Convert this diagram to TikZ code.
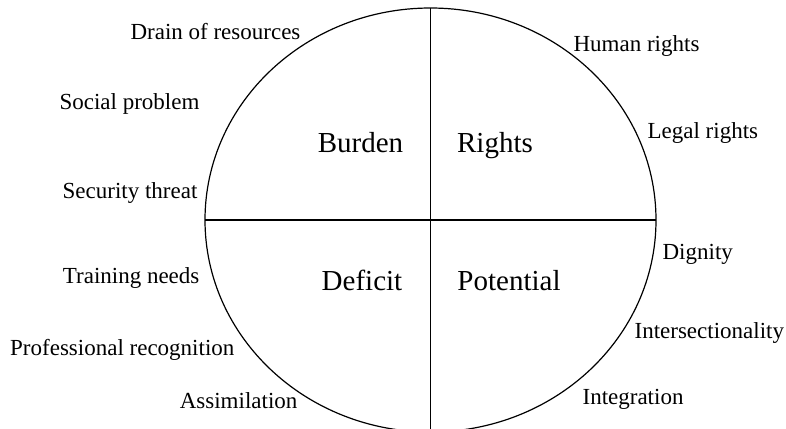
\documentclass[tikz,border=0pt]{standalone}
\usepackage{fontspec}
\setmainfont{Liberation Serif}
\tikzset{
    side/.style={font=\fontsize{23}{27}\selectfont, inner sep=0pt},
    quad/.style={font=\fontsize{29}{34}\selectfont, inner sep=0pt, anchor=base}
}
\begin{document}
\begin{tikzpicture}[x=1pt, y=-1pt, line width=1.2pt]
    \useasboundingbox (0, 0) rectangle (786, 428);
    \draw (430.5, 220) ellipse [x radius=225.5, y radius=212]; % outer ring
    \draw (430.5, 8) -- (430.5, 440); % vertical split
    \draw (205, 220) -- (656, 220); % horizontal split
    % quadrant names
    \node[quad] (burden) at (360.5, 152) {Burden};
    \node[quad] (rights) at (495, 152) {Rights};
    \node[quad] (deficit) at (362, 290) {Deficit};
    \node[quad] (potential) at (509, 290) {Potential};
    % labels on the left
    \foreach \x/\y/\t [count=\i] in {301/40/Drain of resources, 200/109/Social problem,
            198/198/Security threat, 200/283/Training needs,
            235/355/Professional recognition, 298/408/Assimilation} {
            \node[side, anchor=base east] (left\i) at (\x, \y) {\t};
        }
    % labels on the right
    \foreach \x/\y/\t [count=\i] in {573/52/Human rights, 647/138/Legal rights,
            662/259/Dignity, 634/338/Intersectionality, 582/404/Integration} {
            \node[side, anchor=base west] (right\i) at (\x, \y) {\t};
        }
\end{tikzpicture}
\end{document}
